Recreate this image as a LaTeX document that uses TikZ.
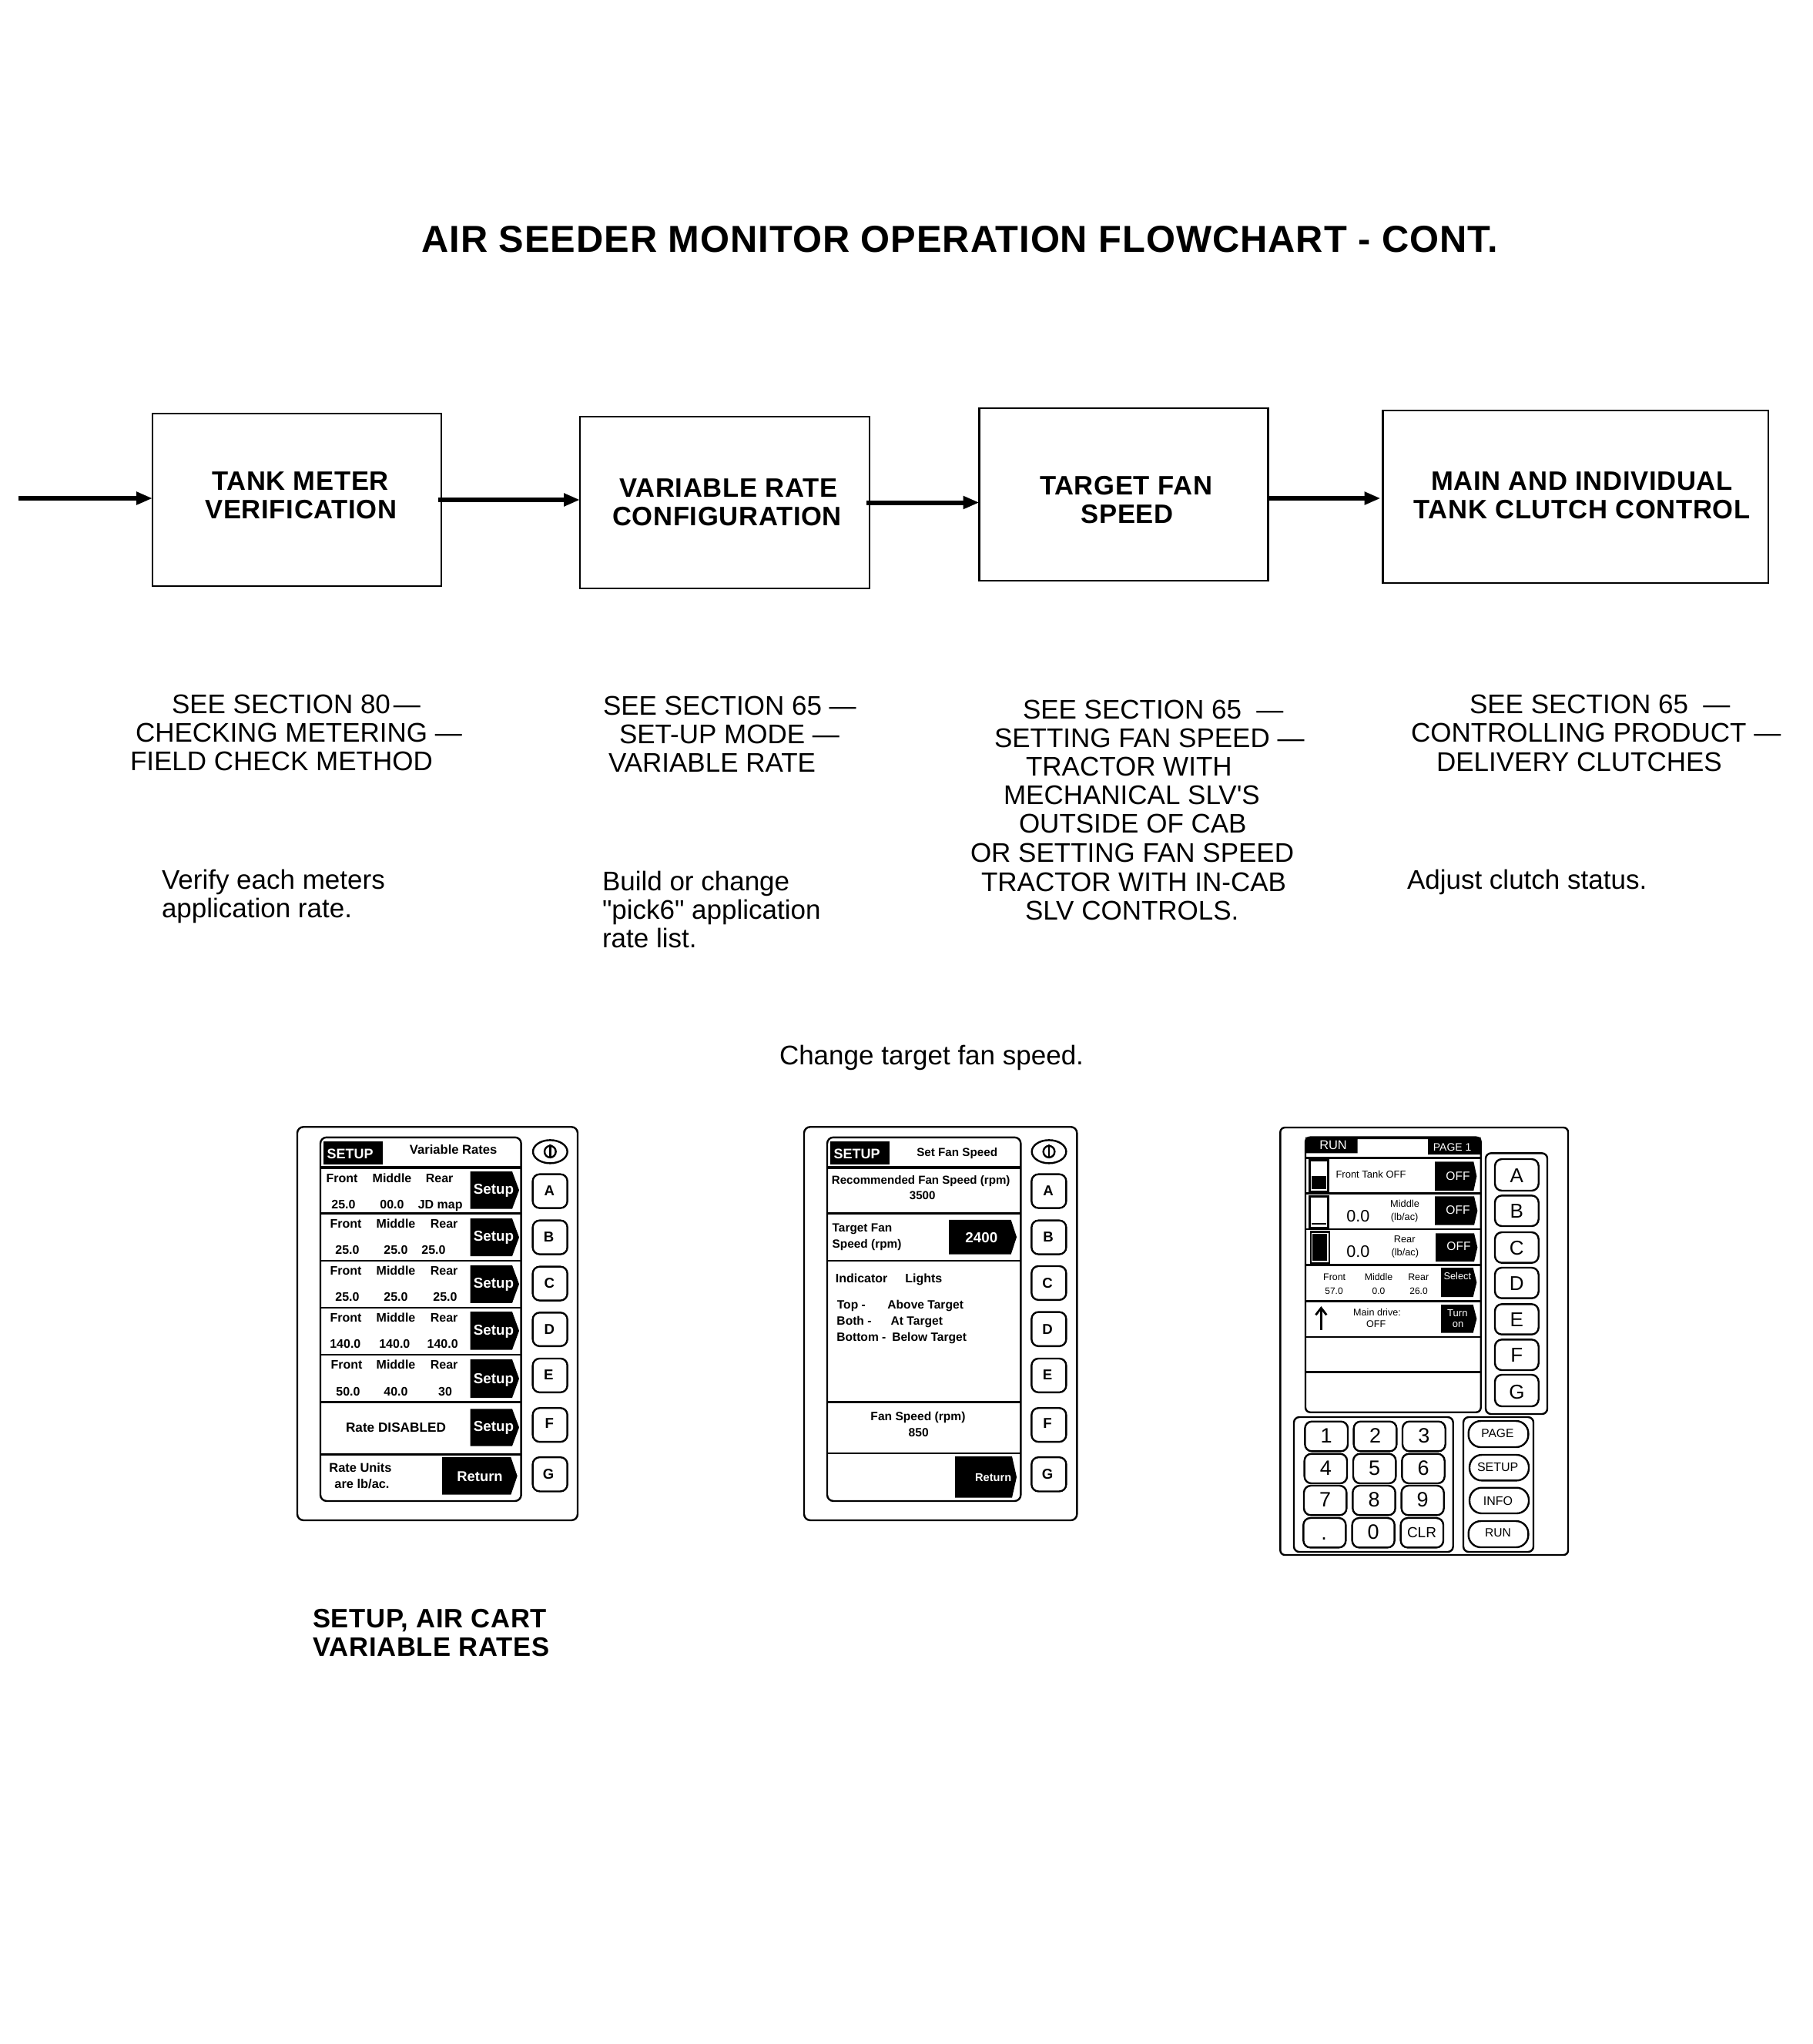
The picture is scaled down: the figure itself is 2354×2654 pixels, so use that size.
\documentclass[tikz,border=0pt]{standalone}
\usepackage{fontspec}
\setmainfont{Liberation Sans}
\newfontfamily\lsans{Liberation Sans}
\usetikzlibrary{arrows.meta,calc}
\newcount\tcnt
\newcommand\bfsp{\bfseries\addfontfeature{LetterSpace=2}}
% \TX[font switches]{size in pt}{anchor}{x,y}{text}: the y is the middle of the capitals
\newcommand\TX[5][]{\global\advance\tcnt by 1\relax
  \node[anchor=#3,inner sep=0pt,outer sep=0pt,yshift={-0.358*#2pt},font=\lsans\fontsize{#2}{#2}\selectfont #1] (t\the\tcnt) at (#4) {#5};}
% \PT{x1}{y1}{xs}{x2}{y2}: black pointed key
\newcommand\PT[5]{\fill[black] (#1,#2) -- (#3,#2) -- (#4,{(#2+#5)/2}) -- (#3,#5) -- (#1,#5) -- cycle;}
\tikzset{
  flowbox/.style={draw=black,line width=1.4pt,rectangle,inner sep=0pt,outer sep=0pt},
  flowarrow/.style={draw=black,line width=3pt,-{Triangle[length=10.5pt,width=8pt]}},
  panel/.style={draw=black,line width=1.2pt,rounded corners=4pt},
  keybtn/.style={draw=black,line width=1.2pt,rounded corners=4.5pt},
  rowline/.style={draw=black,line width=1.3pt},
  headline/.style={draw=black,line width=2.1pt}
}
\begin{document}
\begin{tikzpicture}[x=0.5pt,y=-0.5pt]
\path[use as bounding box] (0,0) rectangle (2354,2654);

% ---------- title
\TX[\bfsp]{24.4}{base}{1246,310}{AIR SEEDER MONITOR OPERATION FLOWCHART - CONT.}

% ---------- flow boxes
\node[flowbox,minimum width=187.5pt,minimum height=112pt] (b1) at (385.5,649) {};
\node[flowbox,minimum width=188pt,minimum height=111.5pt] (b2) at (941,652.5) {};
\node[flowbox,minimum width=187.5pt,minimum height=112pt] (b3) at (1459,642) {};
\node[flowbox,minimum width=250.25pt,minimum height=112pt] (b4) at (2045.75,645) {};
\coordinate (in) at (24,647);
\draw[flowarrow] (in) -- (b1.west |- in);
\draw[flowarrow,shorten <=-2pt] (b1.east) -- (b2.west |- b1.east);
\draw[flowarrow,shorten <=-2pt] (b2.east) -- (b3.west |- b2.east);
\draw[flowarrow,shorten >=1.5pt] ([yshift=-2.5pt]b3.east) -- ([yshift=-2.5pt]b3.east -| b4.west);

\TX[\bfsp]{17.3}{base}{390,624}{TANK METER}
\TX[\bfsp]{17.3}{base}{391,661}{VERIFICATION}
\TX[\bfsp]{17.3}{base}{946,633}{VARIABLE RATE}
\TX[\bfsp]{17.3}{base}{944,670}{CONFIGURATION}
\TX[\bfsp]{17.3}{base}{1462,630}{TARGET FAN}
\TX[\bfsp]{17.3}{base}{1463.5,667}{SPEED}
\TX[\bfsp]{17.3}{base}{2054,624}{MAIN AND INDIVIDUAL}
\TX[\bfsp]{17.3}{base}{2054,661}{TANK CLUTCH CONTROL}

% ---------- section references
\TX{17.5}{base west}{223,914}{SEE SECTION 80\kern2pt—}
\TX{17.5}{base west}{176,951}{CHECKING METERING —}
\TX{17.5}{base west}{169,988}{FIELD CHECK METHOD}
\TX{17.5}{base west}{210,1142}{Verify each meters}
\TX{17.5}{base west}{210,1179}{application rate.}

\TX{17.5}{base west}{783,916}{SEE SECTION 65 —}
\TX{17.5}{base west}{804,953}{SET-UP MODE —}
\TX{17.5}{base west}{790,990}{VARIABLE RATE}
\TX{17.5}{base west}{782,1144}{Build or change}
\TX{17.5}{base west}{782,1181}{"pick6" application}
\TX{17.5}{base west}{782,1218}{rate list.}

\TX{17.5}{base west}{1328,921}{SEE SECTION 65~~—}
\TX{17.5}{base west}{1291,958}{SETTING FAN SPEED —}
\TX{17.5}{base west}{1332,995}{TRACTOR WITH}
\TX{17.5}{base west}{1303,1032}{MECHANICAL SLV'S}
\TX{17.5}{base west}{1323,1069}{OUTSIDE OF CAB}
\TX{17.5}{base west}{1260,1107}{OR SETTING FAN SPEED}
\TX{17.5}{base west}{1274,1145}{TRACTOR WITH IN-CAB}
\TX{17.5}{base west}{1331,1182}{SLV CONTROLS.}

\TX{17.5}{base west}{1908,914}{SEE SECTION 65~~—}
\TX{17.5}{base west}{1832,951}{CONTROLLING PRODUCT —}
\TX{17.5}{base west}{1865,989}{DELIVERY CLUTCHES}
\TX{17.5}{base west}{1827,1142}{Adjust clutch status.}

\TX{17.5}{base west}{1012,1370}{Change target fan speed.}

\TX[\bfsp]{17.3}{base}{558,2101}{SETUP, AIR CART}
\TX[\bfsp]{17.3}{base}{560,2138}{VARIABLE RATES}

% ---------- left panel
\begin{scope}[shift={(370,1440)},x=0.16667pt,y=-0.17857pt]
  \draw[panel] (48,65) rectangle (1140,1495);
  \draw[panel] (138,103) rectangle (920,1425);
  \fill[black] (150,118) rectangle (380,202);
  \draw[headline] (138,213) -- (920,213);
  \foreach \yy in {380,552,722,893,1065,1255} \draw[rowline] (138,\yy) -- (920,\yy);
  \TX[\bfseries\color{white}]{9}{base}{254,163}{SETUP}
  \TX[\bfseries]{8.3}{base}{656,146}{Variable Rates}
  \PT{722}{227}{885}{912}{363}
  \PT{722}{398}{885}{912}{535}
  \PT{722}{568}{885}{912}{705}
  \PT{722}{737}{885}{912}{875}
  \PT{722}{910}{885}{912}{1050}
  \PT{722}{1090}{885}{912}{1225}
  \PT{612}{1266}{880}{905}{1402}
  \foreach \yy in {290,461,632,803,979,1153} {\TX[\bfseries\color{white}]{9.4}{base}{813,\yy}{Setup}}
  \TX[\bfseries\color{white}]{9.2}{base}{759,1335}{Return}
  \TX[\bfseries]{8}{base}{222,250}{Front}
  \TX[\bfseries]{8}{base}{417,250}{Middle}
  \TX[\bfseries]{8}{base}{602,250}{Rear}
  \TX[\bfseries]{8}{base}{228,347}{25.0}
  \TX[\bfseries]{8}{base}{417,347}{00.0}
  \TX[\bfseries]{8}{base}{605,347}{JD map}
  \TX[\bfseries]{8}{base}{237,416}{Front}
  \TX[\bfseries]{8}{base}{432,416}{Middle}
  \TX[\bfseries]{8}{base}{620,416}{Rear}
  \TX[\bfseries]{8}{base}{243,512}{25.0}
  \TX[\bfseries]{8}{base}{432,512}{25.0}
  \TX[\bfseries]{8}{base}{579,512}{25.0}
  \TX[\bfseries]{8}{base}{237,586}{Front}
  \TX[\bfseries]{8}{base}{432,586}{Middle}
  \TX[\bfseries]{8}{base}{620,586}{Rear}
  \TX[\bfseries]{8}{base}{243,683}{25.0}
  \TX[\bfseries]{8}{base}{432,683}{25.0}
  \TX[\bfseries]{8}{base}{624,683}{25.0}
  \TX[\bfseries]{8}{base}{237,758}{Front}
  \TX[\bfseries]{8}{base}{432,758}{Middle}
  \TX[\bfseries]{8}{base}{620,758}{Rear}
  \TX[\bfseries]{8}{base}{235,853}{140.0}
  \TX[\bfseries]{8}{base}{427,853}{140.0}
  \TX[\bfseries]{8}{base}{614,853}{140.0}
  \TX[\bfseries]{8}{base}{240,929}{Front}
  \TX[\bfseries]{8}{base}{432,929}{Middle}
  \TX[\bfseries]{8}{base}{620,929}{Rear}
  \TX[\bfseries]{8}{base}{246,1027}{50.0}
  \TX[\bfseries]{8}{base}{432,1027}{40.0}
  \TX[\bfseries]{8}{base}{624,1027}{30}
  \TX[\bfseries]{8.6}{base}{432,1157}{Rate DISABLED}
  \TX[\bfseries]{8.2}{base}{294,1303}{Rate Units}
  \TX[\bfseries]{8.2}{base}{300,1362}{are lb/ac.}
  \draw[line width=1.2pt] (1033,155) ellipse [x radius=67,y radius=42];
  \draw[line width=1.2pt] (1033,155) ellipse [x radius=22,y radius=21];
  \draw[line width=1.2pt] (1033,130) -- (1033,180);
  \foreach \a/\b in {237/360,405/528,573/696,740/862,907/1030,1087/1210,1266/1390} \draw[keybtn] (965,\a) rectangle (1100,\b);
  \TX[\bfseries]{9.3}{base}{1030,297}{A}
  \TX[\bfseries]{9.3}{base}{1028,465}{B}
  \TX[\bfseries]{9.3}{base}{1030,632}{C}
  \TX[\bfseries]{9.3}{base}{1030,800}{D}
  \TX[\bfseries]{9.3}{base}{1027,965}{E}
  \TX[\bfseries]{9.3}{base}{1030,1143}{F}
  \TX[\bfseries]{9.3}{base}{1026,1327}{G}
\end{scope}

% ---------- middle panel
\begin{scope}[shift={(1030,1440)},x=0.16667pt,y=-0.17857pt]
  \draw[panel] (42,65) rectangle (1105,1495);
  \draw[panel] (132,103) rectangle (886,1425);
  \fill[black] (145,118) rectangle (375,202);
  \draw[headline] (132,213) -- (886,213);
  \foreach \yy in {380,552,1065,1252} \draw[rowline] (132,\yy) -- (886,\yy);
  \TX[\bfseries\color{white}]{9}{base}{248,163}{SETUP}
  \TX[\bfseries]{7.6}{base}{638,156}{Set Fan Speed}
  \TX[\bfseries]{7.55}{base}{497,257}{Recommended Fan Speed (rpm)}
  \TX[\bfseries]{7.55}{base}{503,315}{3500}
  \TX[\bfseries]{7.7}{base west}{152,431}{Target Fan}
  \TX[\bfseries]{7.7}{base west}{152,490}{Speed (rpm)}
  \PT{606}{403}{848}{870}{528}
  \TX[\bfseries\color{white}]{9.4}{base}{733,467}{2400}
  \TX[\bfseries]{8}{base}{266,616}{Indicator}
  \TX[\bfseries]{8}{base}{508,616}{Lights}
  \TX[\bfseries]{7.8}{base}{226,711}{Top -}
  \TX[\bfseries]{7.8}{base}{515,711}{Above Target}
  \TX[\bfseries]{7.8}{base}{237,770}{Both -}
  \TX[\bfseries]{7.8}{base}{481,770}{At Target}
  \TX[\bfseries]{7.8}{base}{265,829}{Bottom -}
  \TX[\bfseries]{7.8}{base}{530,829}{Below Target}
  \TX[\bfseries]{7.8}{base}{486,1117}{Fan Speed (rpm)}
  \TX[\bfseries]{7.8}{base}{488,1175}{850}
  \PT{630}{1263}{852}{870}{1413}
  \TX[\bfseries\color{white}]{7.3}{base}{779,1338}{Return}
  \draw[line width=1.2pt] (996,155) ellipse [x radius=67,y radius=42];
  \draw[line width=1.2pt] (996,155) ellipse [x radius=22,y radius=21];
  \draw[line width=1.2pt] (996,130) -- (996,180);
  \foreach \a/\b in {237/360,405/528,571/694,738/862,907/1030,1087/1210,1266/1390} \draw[keybtn] (928,\a) rectangle (1063,\b);
  \TX[\bfseries]{9.3}{base}{993,297}{A}
  \TX[\bfseries]{9.3}{base}{993,465}{B}
  \TX[\bfseries]{9.3}{base}{990,632}{C}
  \TX[\bfseries]{9.3}{base}{990,800}{D}
  \TX[\bfseries]{9.3}{base}{990,965}{E}
  \TX[\bfseries]{9.3}{base}{990,1143}{F}
  \TX[\bfseries]{9.3}{base}{990,1327}{G}
\end{scope}

% ---------- right panel
\begin{scope}[shift={(1640,1440)},x=0.16667pt,y=-0.16667pt]
  \draw[panel,rounded corners=3pt] (67,72) rectangle (1188,1737);
  \draw[panel,rounded corners=3pt] (165,110) rectangle (848,1181);
  \fill[black] (165,110) -- (848,110) -- (848,177) -- (642,177) -- (642,117) -- (368,117) -- (368,172) -- (165,172) -- cycle;
  \TX[\color{white}]{8.2}{base}{273,140}{RUN}
  \TX[\color{white}]{7}{base}{737,148}{PAGE 1}
  \foreach \yy in {190,328,468,607,748,888,1025} \draw[rowline] (165,\yy) -- (848,\yy);
  % tank level indicators
  \fill[black] (178,195) rectangle (258,325);
  \fill[white] (186,203) rectangle (250,318);
  \fill[black] (190,262) rectangle (245,312);
  \fill[black] (178,336) rectangle (258,465);
  \fill[white] (186,345) rectangle (250,458);
  \fill[black] (190,443) rectangle (245,450);
  \fill[black] (182,474) rectangle (260,603);
  \fill[white] (188,482) rectangle (254,596);
  \fill[black] (193,487) rectangle (250,590);
  \PT{669}{205}{820}{832}{318}
  \PT{669}{340}{822}{835}{452}
  \PT{672}{484}{822}{835}{594}
  \PT{693}{618}{818}{832}{732}
  \PT{693}{762}{818}{832}{872}
  \TX[\color{white}]{7.8}{base}{759,260}{OFF}
  \TX[\color{white}]{7.8}{base}{759,392}{OFF}
  \TX[\color{white}]{7.8}{base}{762,535}{OFF}
  \TX[\color{white}]{6.4}{base}{757,650}{Select}
  \TX[\color{white}]{6.5}{base}{757,793}{Turn}
  \TX[\color{white}]{6.5}{base}{759,836}{on}
  \TX{6.5}{base}{420,255}{Front Tank OFF}
  \TX{10.8}{base}{370,415}{0.0}
  \TX{6.4}{base}{552,369}{Middle}
  \TX{6.4}{base}{551,419}{(lb/ac)}
  \TX{10.8}{base}{370,553}{0.0}
  \TX{6.4}{base}{551,507}{Rear}
  \TX{6.4}{base}{553,558}{(lb/ac)}
  \TX{6.2}{base}{278,654}{Front}
  \TX{6.2}{base}{450,654}{Middle}
  \TX{6.2}{base}{605,654}{Rear}
  \TX{6}{base}{276,709}{57.0}
  \TX{6}{base}{450,709}{0.0}
  \TX{6}{base}{606,709}{26.0}
  \TX{6.3}{base}{444,792}{Main drive:}
  \TX{6.3}{base}{440,838}{OFF}
  \coordinate (arrowfoot) at (226,860);
  \coordinate (arrowtip) at (226,775);
  \draw[line width=1.4pt] (arrowfoot) -- (arrowtip);
  \draw[line width=1.4pt] (205,802) -- (arrowtip) -- (247,802);
  % letter keys
  \draw[panel,rounded corners=3.5pt] (867,172) rectangle (1107,1188);
  \foreach \a/\b in {195/318,337/456,480/599,618/737,760/878,898/1017,1035/1158} \draw[keybtn] (903,\a) rectangle (1073,\b);
  \TX{13}{base}{988,260}{A}
  \TX{13}{base}{988,396}{B}
  \TX{13}{base}{988,539}{C}
  \TX{13}{base}{988,678}{D}
  \TX{13}{base}{988,820}{E}
  \TX{13}{base}{988,958}{F}
  \TX{13}{base}{988,1100}{G}
  % numeric keypad
  \draw[panel,rounded corners=3.5pt] (120,1200) rectangle (740,1725);
  \foreach \xa/\ya/\xb/\yb/\lab in {
    163/1217/330/1333/1, 353/1217/520/1333/2, 543/1217/710/1333/3,
    161/1343/327/1458/4, 351/1343/517/1458/5, 541/1343/707/1458/6,
    159/1467/325/1582/7, 349/1467/515/1582/8, 539/1467/704/1582/9,
    347/1593/512/1708/0} {
      \draw[keybtn] (\xa,\ya) rectangle (\xb,\yb);
      \TX{13.5}{base}{{(\xa+\xb)/2},{(\ya+\yb)/2-3}}{\lab}
  }
  \draw[keybtn] (157,1593) rectangle (322,1708);
  \TX{13.5}{base}{237,1650}{.}
  \draw[keybtn] (536,1593) rectangle (702,1708);
  \TX{9.5}{base}{618,1650}{CLR}
  % mode keys
  \draw[panel,rounded corners=3.5pt] (780,1200) rectangle (1053,1725);
  \draw[keybtn,rounded corners=8pt] (800,1215) rectangle (1033,1317);
  \draw[keybtn,rounded corners=8pt] (804,1347) rectangle (1035,1447);
  \draw[keybtn,rounded corners=8pt] (804,1475) rectangle (1035,1575);
  \draw[keybtn,rounded corners=8pt] (800,1605) rectangle (1033,1707);
  \TX{7.8}{base}{913,1264}{PAGE}
  \TX{8}{base}{914,1394}{SETUP}
  \TX{8}{base}{915,1525}{INFO}
  \TX{7.8}{base}{915,1651}{RUN}
\end{scope}
\end{tikzpicture}
\end{document}
